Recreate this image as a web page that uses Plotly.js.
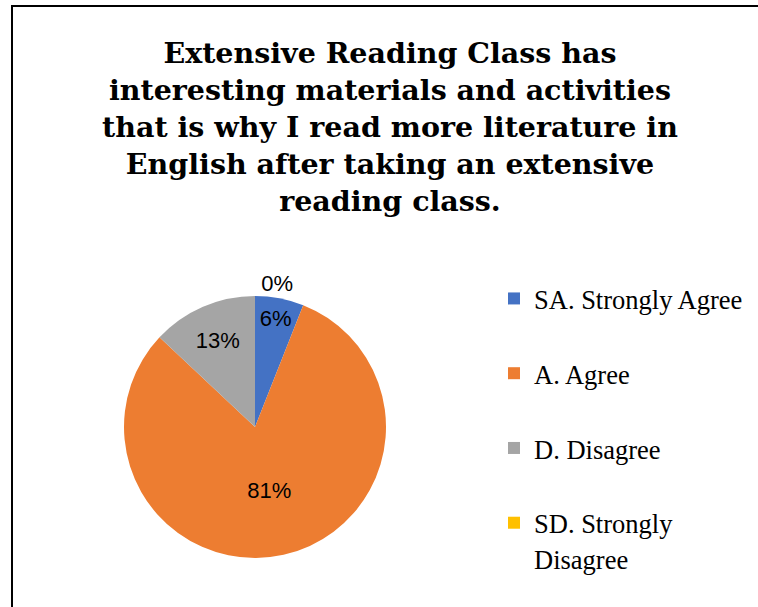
<!DOCTYPE html>
<html>
<head>
<meta charset="utf-8">
<script src="https://cdn.plot.ly/plotly-3.0.1.min.js"></script>
<style>
  html, body { margin: 0; padding: 0; background: #fff; }
  #chart { width: 758px; height: 607px; }
</style>
</head>
<body>
<div id="chart"></div>
<script>
const categories = ["SA. Strongly Agree", "A. Agree", "D. Disagree", "SD. Strongly Disagree"];
const legendLabels = ["SA. Strongly Agree", "A. Agree", "D. Disagree", "SD. Strongly<br>Disagree"];
const percentValues = [6, 81, 13, 0];
const sliceColors = ["#4472C4", "#ED7D31", "#A5A5A5", "#FFC000"];
const chartTitle = "Extensive Reading Class has<br>interesting materials and activities<br>that is why I read more literature in<br>English after taking an extensive<br>reading class.";

const W = 758, H = 607;

const labelsForLegend = legendLabels.map(function (l) {
  const parts = l.split("<br>");
  const styled = parts.map(function (p) { return "<span style='font-size:26.5px'>" + p + "</span>"; });
  if (parts.length < 2) styled.push(" ");
  return styled.join("<br>");
});

const trace = {
  type: "pie",
  labels: labelsForLegend,
  values: percentValues,
  marker: { colors: sliceColors, line: { width: 0 } },
  sort: false,
  direction: "clockwise",
  rotation: 0,
  texttemplate: percentValues.map(function (v) { return v + "%"; }),
  textinfo: "text",
  textposition: ["inside", "inside", "inside", "outside"],
  insidetextorientation: "horizontal",
  textfont: { family: "Liberation Sans, Arial, sans-serif", size: 22, color: "#000000" },
  outsidetextfont: { family: "Liberation Sans, Arial, sans-serif", size: 22, color: "#000000" },
  hoverinfo: "label+percent",
  domain: { x: [124 / W, 386 / W], y: [1 - 558 / H, 1 - 296 / H] },
  showlegend: true
};

const layout = {
  width: W,
  height: H,
  margin: { l: 0, r: 0, t: 0, b: 0 },
  paper_bgcolor: "#ffffff",
  plot_bgcolor: "#ffffff",
  title: {
    text: chartTitle,
    font: { family: "DejaVu Serif, Liberation Serif, serif", size: 28.5, color: "#000000", weight: "bold" },
    x: 390 / W,
    xanchor: "center",
    y: 1 - 63 / H,
    yanchor: "top",
    xref: "paper",
    yref: "paper"
  },
  legend: {
    x: 494 / W,
    y: 1 - 274 / H,
    xanchor: "left",
    yanchor: "top",
    valign: "top",
    font: { family: "Liberation Serif, Times New Roman, serif", size: 27.6, color: "#000000" },
    bgcolor: "rgba(0,0,0,0)",
    borderwidth: 0
  },
  shapes: [
    {
      type: "rect", xref: "paper", yref: "paper",
      x0: 12 / W, x1: 1.02, y0: -0.02, y1: 1 - 6 / H,
      line: { color: "#000000", width: 2 },
      fillcolor: "rgba(0,0,0,0)"
    }
  ]
};

Plotly.newPlot("chart", [trace], layout, { displayModeBar: false, staticPlot: true });
</script>
</body>
</html>
